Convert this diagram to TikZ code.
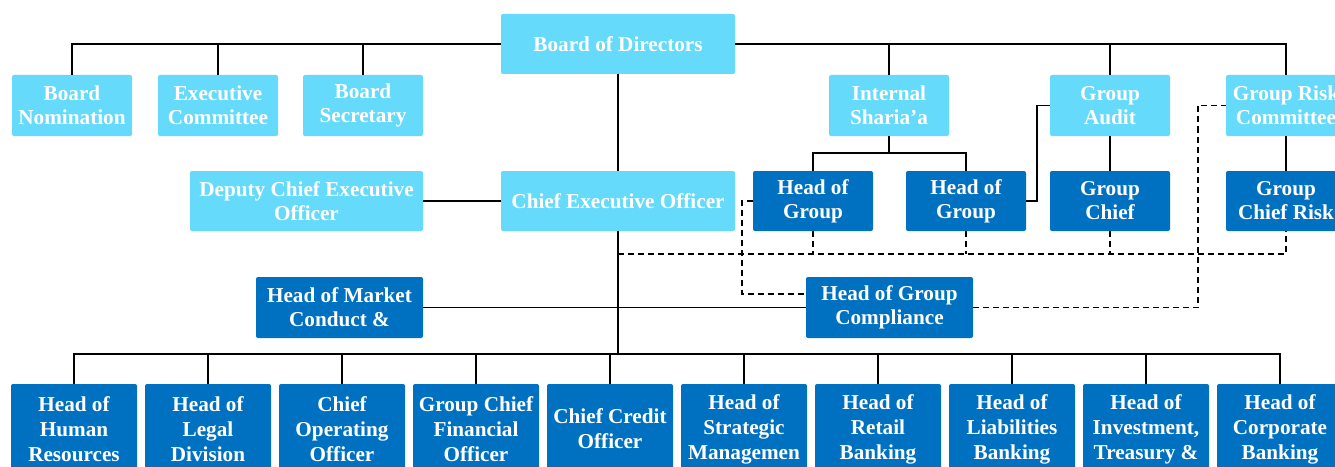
\documentclass[tikz,border=0pt]{standalone}
\usepackage{fontspec}
\setmainfont{Liberation Serif}
\usepackage{xcolor}
\usepackage{tikz}
\usetikzlibrary{positioning}

\definecolor{boardcyan}{RGB}{102,218,250}
\definecolor{execblue}{RGB}{0,112,192}

\begin{document}
\begin{tikzpicture}[
    x=0.75pt, y=-0.75pt,
    node distance=5.6pt,
    every node/.style={font=\bfseries\fontsize{15.9}{18}\selectfont, text=white,
        align=center, inner sep=0pt, rounded corners=1.5pt},
    board/.style={fill=boardcyan, minimum width=90pt, minimum height=45.75pt},
    wideboard/.style={fill=boardcyan, minimum width=175.5pt, minimum height=45pt},
    head/.style={fill=execblue, minimum width=90pt, minimum height=45pt},
    widehead/.style={fill=execblue, minimum width=125.25pt, minimum height=45.75pt},
    unit/.style={fill=execblue, minimum width=94.5pt, minimum height=67.5pt,
        font=\bfseries\fontsize{15.9}{18.75}\selectfont},
    link/.style={draw=black, line width=1.4pt},
    dotlink/.style={draw=black, line width=1.4pt, dash pattern=on 4.5pt off 3pt},
]
\useasboundingbox (0,0) rectangle (1335,467);
\clip (0,0) rectangle (1335,467);

% Board level
\node[wideboard] (bod) at (618,44) {Board of Directors};
\node[board] (nomination) at (72,105.5) {Board\\Nomination};
\node[board] (execcom) at (218,105.5) {Executive\\Committee};
\node[board] (secretary) at (363,105.5) {Board\\Secretary};
\node[board] (sharia) at (889,105.5) {Internal\\Sharia’a};
\node[board] (audit) at (1110,105.5) {Group\\Audit};
\node[board] (riskcom) at (1286,105.5) {Group Risk\\Committee};

% Executive level
\node[wideboard, minimum width=174.75pt] (deputy) at (306.5,201) {Deputy Chief Executive\\Officer};
\node[wideboard] (ceo) at (618,201) {Chief Executive Officer};
\node[head] (hog1) at (813,201) {Head of\\Group};
\node[head] (hog2) at (966,201) {Head of\\Group};
\node[head] (gchief) at (1110,201) {Group\\Chief};
\node[head] (gcro) at (1286,201) {Group\\Chief Risk};

% Conduct and compliance
\node[widehead] (market) at (339.5,307.5) {Head of Market\\Conduct \&};
\node[widehead] (compliance) at (889.5,307.5) {Head of Group\\Compliance};

% Divisions under the CEO
\node[unit] (hr) at (74,429) {Head of\\Human\\Resources};
\node[unit, right=of hr] (legal) {Head of\\Legal\\Division};
\node[unit, right=of legal] (coo) {Chief\\Operating\\Officer};
\node[unit, right=of coo] (cfo) {Group Chief\\Financial\\Officer};
\node[unit, right=of cfo] (cco) {Chief Credit\\Officer};
\node[unit, right=of cco] (strategy) {Head of\\Strategic\\Managemen};
\node[unit, right=of strategy] (retail) {Head of\\Retail\\Banking};
\node[unit, right=of retail] (liabilities) {Head of\\Liabilities\\Banking};
\node[unit, right=of liabilities] (treasury) {Head of\\Investment,\\Treasury \&};
\node[unit, right=of treasury] (corporate) {Head of\\Corporate\\Banking};

% Board committees
\draw[link] (bod.west) -| (nomination.north);
\draw[link] (execcom.north |- bod.west) -- (execcom.north);
\draw[link] (secretary.north |- bod.west) -- (secretary.north);
\draw[link] (bod.east) -| (riskcom.north);
\draw[link] (sharia.north |- bod.east) -- (sharia.north);
\draw[link] (audit.north |- bod.east) -- (audit.north);
\draw[link] (bod) -- (ceo);
\draw[link] (deputy) -- (ceo);

% Sharia'a, audit and risk heads
\coordinate (shariasplit) at (889,153);
\draw[link] (sharia.south) -- (shariasplit);
\draw[link] (shariasplit) -| (hog1.north);
\draw[link] (shariasplit) -| (hog2.north);
\draw[link] (hog2.east) -- ++(11,0) |- (audit.west);
\draw[link] (audit) -- (gchief);
\draw[link] (riskcom) -- (gcro);

% CEO trunk and divisions bus
\coordinate (trunk) at (618,354);
\draw[link, line width=2.2pt] (ceo.south) -- (trunk);
\draw[link] (market) -- (compliance);
\draw[link] (trunk) -| (hr.north);
\draw[link] (trunk) -| (corporate.north);
\draw[link] (legal.north |- trunk) -- (legal.north)
    (coo.north |- trunk) -- (coo.north)
    (cfo.north |- trunk) -- (cfo.north)
    (cco.north |- trunk) -- (cco.north)
    (strategy.north |- trunk) -- (strategy.north)
    (retail.north |- trunk) -- (retail.north)
    (liabilities.north |- trunk) -- (liabilities.north)
    (treasury.north |- trunk) -- (treasury.north);

% Dotted reporting lines
\coordinate (dotbus) at (618,254);
\draw[dotlink] (dotbus) -| (gcro.south);
\draw[dotlink] (hog1.south) -- (hog1.south |- dotbus);
\draw[dotlink] (hog2.south) -- (hog2.south |- dotbus);
\draw[dotlink] (gchief.south) -- (gchief.south |- dotbus);
\draw[dotlink] (hog1.west) -- ++(-11,0) |- ([yshift=10pt]compliance.west);
\draw[dotlink] (compliance.east) -- ++(225,0) |- (riskcom.west);

\end{tikzpicture}
\end{document}
